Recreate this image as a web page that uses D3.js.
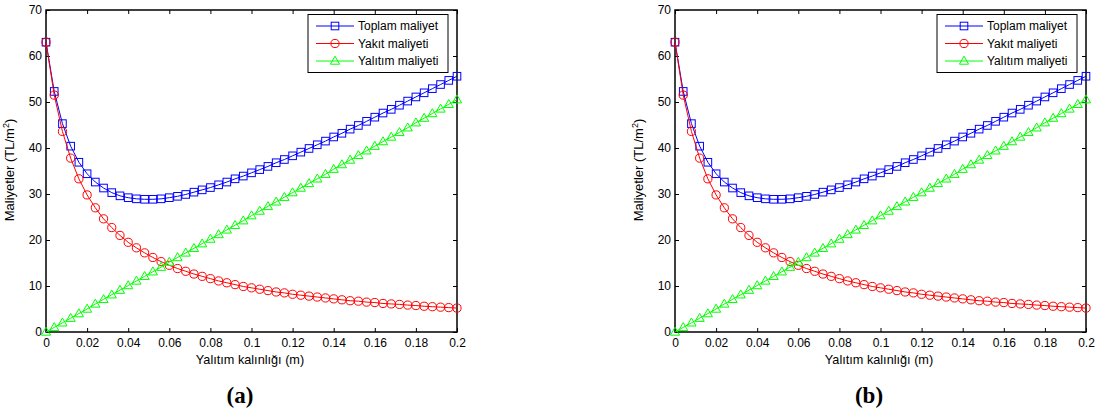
<!DOCTYPE html>
<html><head><meta charset="utf-8">
<script src="https://cdn.jsdelivr.net/npm/d3@7"></script>
<style>body{margin:0;background:#fff}svg{display:block}</style>
</head><body>
<svg id="c" width="1097" height="412"></svg>
<script>
const thickness = [0,0.004,0.008,0.012,0.016,0.02,0.024,0.028,0.032,0.036,0.04,0.044,0.048,0.052,0.056,0.06,0.064,0.068,0.072,0.076,0.08,0.084,0.088,0.092,0.096,0.1,0.104,0.108,0.112,0.116,0.12,0.124,0.128,0.132,0.136,0.14,0.144,0.148,0.152,0.156,0.16,0.164,0.168,0.172,0.176,0.18,0.184,0.188,0.192,0.196,0.2];
const totalCost = [63.0,52.3,45.3,40.4,36.9,34.4,32.6,31.3,30.3,29.6,29.2,28.95,28.85,28.85,28.95,29.2,29.5,29.9,30.4,30.9,31.4,32.0,32.6,33.3,33.9,34.6,35.3,36.0,36.8,37.5,38.3,39.1,39.9,40.7,41.5,42.4,43.2,44.1,44.9,45.8,46.7,47.6,48.4,49.3,50.2,51.1,52.0,52.9,53.8,54.7,55.6];
const fuelCost = [63.0,51.5,43.6,37.8,33.3,29.8,27.0,24.6,22.7,21.0,19.5,18.3,17.2,16.2,15.3,14.5,13.8,13.2,12.6,12.1,11.6,11.1,10.7,10.3,9.9,9.6,9.3,9.0,8.7,8.5,8.2,8.0,7.8,7.6,7.4,7.2,7.0,6.8,6.7,6.5,6.4,6.2,6.1,6.0,5.85,5.75,5.6,5.5,5.4,5.3,5.2];
const insulationCost = [0,1.0,2.0,3.0,4.0,5.0,6.1,7.1,8.1,9.1,10.1,11.1,12.1,13.1,14.1,15.2,16.2,17.2,18.2,19.2,20.2,21.2,22.2,23.2,24.2,25.3,26.3,27.3,28.3,29.3,30.3,31.3,32.3,33.3,34.3,35.4,36.4,37.4,38.4,39.4,40.4,41.4,42.4,43.4,44.4,45.5,46.5,47.5,48.5,49.5,50.5];
const seriesNames = ["Toplam maliyet","Yakıt maliyeti","Yalıtım maliyeti"];
const seriesColors = ["#0000ff","#ff0000","#00ff00"];
const seriesMarkers = ["square","circle","triangle"];
const xTicks = [0,0.02,0.04,0.06,0.08,0.1,0.12,0.14,0.16,0.18,0.2];
const yTicks = [0,10,20,30,40,50,60,70];
const panelLabels = ["(a)","(b)"];
const xTitle = "Yalıtım kalınlığı (m)";
const yTitle = "Maliyetler (TL/m";

const svg = d3.select("#c");
const font = "'Liberation Sans', Arial, sans-serif";
const series = [totalCost, fuelCost, insulationCost];

function marker(g, type, color) {
  if (type === "square") {
    g.append("rect").attr("x",-3.8).attr("y",-3.8).attr("width",7.6).attr("height",7.6)
      .attr("fill","none").attr("stroke",color).attr("stroke-width",1);
  } else if (type === "circle") {
    g.append("circle").attr("r",4.1).attr("fill","none").attr("stroke",color).attr("stroke-width",1);
  } else {
    g.append("path").attr("d","M0,-4.8L4.6,3.2L-4.6,3.2Z")
      .attr("fill","none").attr("stroke",color).attr("stroke-width",1);
  }
}

function panel(ox, label) {
  const x = d3.scaleLinear().domain([0,0.2]).range([ox, ox+411]);
  const y = d3.scaleLinear().domain([0,70]).range([332, 10]);
  const g = svg.append("g");
  const fmt = d => d === 0 ? "0" : String(+d.toFixed(2));

  const bx = g.append("g").attr("transform","translate(0,332)")
    .call(d3.axisBottom(x).tickValues(xTicks).tickSizeInner(-4).tickSizeOuter(0).tickPadding(6).tickFormat(fmt));
  const tx = g.append("g").attr("transform","translate(0,10)")
    .call(d3.axisTop(x).tickValues(xTicks).tickSizeInner(-4).tickSizeOuter(0).tickFormat(""));
  const ly = g.append("g").attr("transform",`translate(${ox},0)`)
    .call(d3.axisLeft(y).tickValues(yTicks).tickSizeInner(-4).tickSizeOuter(0).tickPadding(4).tickFormat(d3.format("d")));
  const ry = g.append("g").attr("transform",`translate(${ox+411},0)`)
    .call(d3.axisRight(y).tickValues(yTicks).tickSizeInner(-4).tickSizeOuter(0).tickFormat(""));
  [bx,tx,ly,ry].forEach(a => {
    a.select(".domain").remove();
    a.selectAll(".tick line").attr("stroke","#000").attr("stroke-width",1);
    a.selectAll("text").attr("font-family",font).attr("font-size",12).attr("fill","#000");
  });
  g.append("rect").attr("x",ox).attr("y",10).attr("width",411).attr("height",322)
    .attr("fill","none").attr("stroke","#000").attr("stroke-width",1.5);

  series.forEach((vals, si) => {
    const pts = thickness.map((t,i) => [x(t), y(vals[i])]);
    g.append("path").attr("d", d3.line()(pts)).attr("fill","none")
      .attr("stroke", seriesColors[si]).attr("stroke-width",1);
    pts.forEach(p => marker(g.append("g").attr("transform",`translate(${p[0]},${p[1]})`), seriesMarkers[si], seriesColors[si]));
  });

  // legend
  const lx = ox + 262, ly0 = 14.5;
  g.append("rect").attr("x",lx).attr("y",ly0).attr("width",140).attr("height",58)
    .attr("fill","#fff").attr("stroke","#000").attr("stroke-width",1);
  seriesNames.forEach((n, i) => {
    const yy = ly0 + 11.5 + i*17.5;
    g.append("line").attr("x1",lx+8).attr("x2",lx+46).attr("y1",yy).attr("y2",yy)
      .attr("stroke",seriesColors[i]).attr("stroke-width",1);
    marker(g.append("g").attr("transform",`translate(${lx+27},${yy})`), seriesMarkers[i], seriesColors[i]);
    g.append("text").attr("x",lx+50).attr("y",yy+4.3).text(n)
      .attr("font-family",font).attr("font-size",12).attr("fill","#000");
  });

  g.append("text").attr("x",ox+204).attr("y",364).attr("text-anchor","middle")
    .attr("font-family",font).attr("font-size",12.7).text(xTitle);
  const yt = g.append("text").attr("transform",`translate(${ox-32},170) rotate(-90)`)
    .attr("text-anchor","middle").attr("font-family",font).attr("font-size",13);
  yt.append("tspan").text(yTitle);
  yt.append("tspan").attr("font-size",9).attr("dy",-5).text("2");
  yt.append("tspan").attr("dy",5).text(")");

  g.append("text").attr("x",ox+194).attr("y",403).attr("text-anchor","middle")
    .attr("font-family","'Liberation Serif', 'Times New Roman', serif").attr("font-weight","bold")
    .attr("font-size",23).text(label);
}
panel(46, panelLabels[0]);
panel(675, panelLabels[1]);
</script>
</body></html>
